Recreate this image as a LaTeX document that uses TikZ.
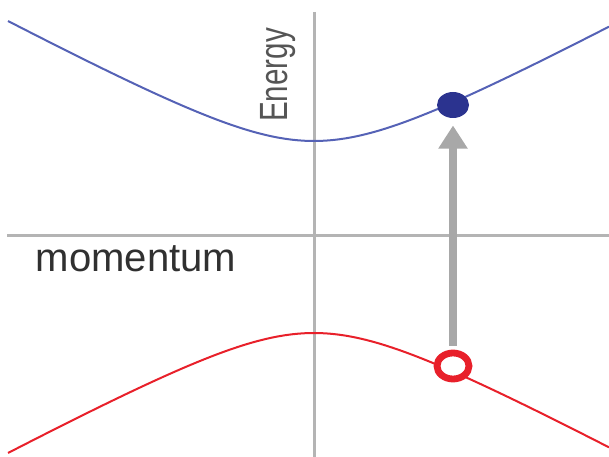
\documentclass[tikz,border=0pt]{standalone}
\usepackage{fontspec}
\setmainfont{Liberation Sans}
\usepackage{graphicx}
\usetikzlibrary{arrows.meta, shapes.geometric}

\definecolor{axisgray}{RGB}{180,180,180}
\definecolor{bandblue}{RGB}{85,98,182}
\definecolor{dotblue}{RGB}{43,51,143}
\definecolor{bandred}{RGB}{232,32,42}
\definecolor{arrowgray}{RGB}{168,168,168}

\begin{document}
\begin{tikzpicture}[
    x=0.025cm, y=-0.025cm,
    axis/.style={draw=axisgray, line width=0.075cm},
    band/.style={line width=0.05cm},
    electron/.style={ellipse, fill=dotblue, minimum width=0.8cm,
                     minimum height=0.65cm, inner sep=0pt},
    hole/.style={ellipse, draw=bandred, line width=0.17cm, fill=white,
                 minimum width=0.8cm, minimum height=0.65cm, inner sep=0pt},
    excite/.style={draw=arrowgray, line width=0.2cm,
                   -{Triangle[width=0.7cm, length=0.58cm]}}
  ]
  \useasboundingbox (0,0) rectangle (609,457);

  % Axes
  \coordinate (kleft)  at (7,236);
  \coordinate (kright) at (609,236);
  \coordinate (etop)   at (314,12);
  \coordinate (ebot)   at (314,457);
  \draw[axis] (kleft) -- (kright);
  \draw[axis] (etop) -- (ebot);
  \node[font=\fontsize{28.5}{30}\selectfont, text={rgb,255:red,48;green,48;blue,48},
        anchor=base, inner sep=0pt] (klabel) at (136,272) {momentum};
  \node[font=\fontsize{28}{30}\selectfont, text={rgb,255:red,85;green,85;blue,85},
        anchor=base, rotate=90, inner sep=0pt] (elabel) at (287,75)
        {\scalebox{0.75}[1]{Energy}};

  % Bands
  \draw[band, bandblue] plot[domain=8:609, samples=90]
    (\x, {141 - 100*(sqrt(0.536^2 + 0.2911*((\x-314)/100)^2) - 0.536)});
  \draw[band, bandred] plot[domain=8:609, samples=90]
    (\x, {333 + 100*(sqrt(0.536^2 + 0.2911*((\x-314)/100)^2) - 0.536)});

  % Excitation
  \node[hole] (h) at (453,366) {};
  \node[electron] (e) at (453,105) {};
  \draw[excite, shorten <=0.1cm, shorten >=0.18cm] (h.north) -- (e.south);
\end{tikzpicture}
\end{document}
